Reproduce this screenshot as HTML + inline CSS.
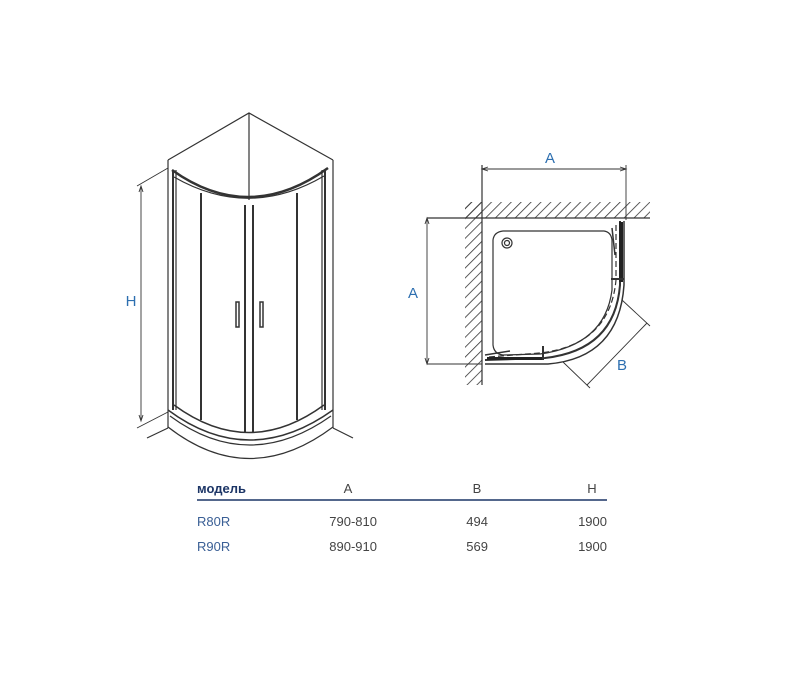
<!DOCTYPE html>
<html><head><meta charset="utf-8"><style>
html,body{margin:0;padding:0;background:#fff;}
svg{display:block}
text{font-family:"Liberation Sans",Arial,sans-serif;}
</style></head><body>
<svg width="800" height="681" viewBox="0 0 800 681" xmlns="http://www.w3.org/2000/svg">
<defs>
<pattern id="h" width="7" height="7" patternUnits="userSpaceOnUse" patternTransform="rotate(45)">
<line x1="0" y1="0" x2="0" y2="7" stroke="#333" stroke-width="1.6"/>
</pattern>
</defs>
<g fill="none" stroke="#333" stroke-width="1.2">
<path d="M168,160 L249,113 L333,160"/>
<line x1="249" y1="113" x2="249" y2="200"/>
<line x1="168" y1="160" x2="168" y2="428"/>
<line x1="333" y1="160" x2="333" y2="428"/>
<path d="M147,438 L168,428 M333,428 L353,438"/>
<path d="M172,170 Q249,225 328,168" stroke-width="2.5"/>
<path d="M174,177 Q249,220 324,176"/>
<line x1="173" y1="170" x2="173" y2="410" stroke-width="2"/>
<line x1="176" y1="170" x2="176" y2="410"/>
<line x1="201" y1="193" x2="201" y2="420" stroke-width="2"/>
<line x1="245" y1="205" x2="245" y2="433" stroke-width="2"/>
<line x1="253" y1="205" x2="253" y2="433" stroke-width="2"/>
<line x1="297" y1="193" x2="297" y2="420" stroke-width="2"/>
<line x1="322" y1="170" x2="322" y2="410"/>
<line x1="325" y1="170" x2="325" y2="410" stroke-width="2"/>
<rect x="236" y="302" width="3" height="25" stroke-width="1.5"/>
<rect x="260" y="302" width="3" height="25" stroke-width="1.5"/>
<path d="M174,405 Q249,460 324,405" stroke-width="1.5"/>
<path d="M168,410 Q249,470 333,410" stroke-width="1.5"/>
<path d="M170,416 Q249,474 331,416"/>
<path d="M168,427 Q249,490 333,427"/>
<line x1="141" y1="187" x2="141" y2="420" stroke-width="0.9"/>
<path d="M137,186 L168,168 M137,428 L168,412" stroke-width="0.9"/>
<path d="M139,192 L141,186 L143,192 M139,415 L141,421 L143,415" stroke-width="0.9"/>
<rect x="465" y="202" width="185" height="16" fill="url(#h)" stroke="none"/>
<rect x="465" y="202" width="17" height="183" fill="url(#h)" stroke="none"/>
<rect x="482" y="218" width="168" height="167" fill="#fff" stroke="none"/>
<line x1="427" y1="218" x2="650" y2="218"/>
<line x1="482" y1="165" x2="482" y2="385"/>
<line x1="626" y1="165" x2="626" y2="220" stroke-width="0.9"/>
<line x1="482" y1="169" x2="626" y2="169" stroke-width="0.9"/>
<path d="M488,167 L482,169 L488,171 M620,167 L626,169 L620,171" stroke-width="0.9"/>
<line x1="427" y1="218" x2="427" y2="364" stroke-width="0.9"/>
<line x1="427" y1="364" x2="482" y2="364" stroke-width="0.9"/>
<path d="M425,224 L427,218 L429,224 M425,358 L427,364 L429,358" stroke-width="0.9"/>
<path d="M503,231 L604,231 Q611,232 612,240 L612,290 Q605,345 540,354 L503,355 Q494,354 493,345 L493,240 Q494,232 503,231 Z"/>
<circle cx="507" cy="243" r="5"/>
<circle cx="507" cy="243" r="2.5"/>
<path d="M620,221 L620,285 Q615,350 545,358 L485,360" stroke-width="2"/>
<path d="M624,221 L624,285 Q619,358 548,364 L485,364" stroke-width="1.5"/>
<path d="M616,225 L616,280 Q610,345 540,353 L488,357" stroke-dasharray="6 3"/>
<rect x="619" y="222" width="4" height="60" fill="#222" stroke="none"/>
<rect x="487" y="357" width="55" height="3" fill="#222" stroke="none"/>
<path d="M612,228 L615,255 M510,351 L485,355" stroke-width="1.5"/>
<path d="M611,279 L624,279 M543,346 L543,360" stroke-width="2"/>
<path d="M622,300 L650,326 M563,362 L590,388" stroke-width="0.9"/>
<line x1="647" y1="323" x2="587" y2="385" stroke-width="0.9"/>
<line x1="197" y1="500" x2="607" y2="500" stroke="#1c3566" stroke-width="1.6"/>
</g>
<text x="131" y="306" font-size="15" fill="#2d6fb0" text-anchor="middle">H</text>
<text x="550" y="163" font-size="15" fill="#2d6fb0" text-anchor="middle">A</text>
<text x="413" y="298" font-size="15" fill="#2d6fb0" text-anchor="middle">A</text>
<text x="622" y="370" font-size="15" fill="#2d6fb0" text-anchor="middle">B</text>
<g font-size="13" fill="#444">
<text x="197" y="493" fill="#1c3566" font-weight="bold">модель</text>
<text x="348" y="493" text-anchor="middle">A</text>
<text x="477" y="493" text-anchor="middle">B</text>
<text x="592" y="493" text-anchor="middle">H</text>
<text x="197" y="526" fill="#3a5f95">R80R</text>
<text x="377" y="526" text-anchor="end">790-810</text>
<text x="488" y="526" text-anchor="end">494</text>
<text x="607" y="526" text-anchor="end">1900</text>
<text x="197" y="551" fill="#3a5f95">R90R</text>
<text x="377" y="551" text-anchor="end">890-910</text>
<text x="488" y="551" text-anchor="end">569</text>
<text x="607" y="551" text-anchor="end">1900</text>
</g>
</svg>
</body></html>
